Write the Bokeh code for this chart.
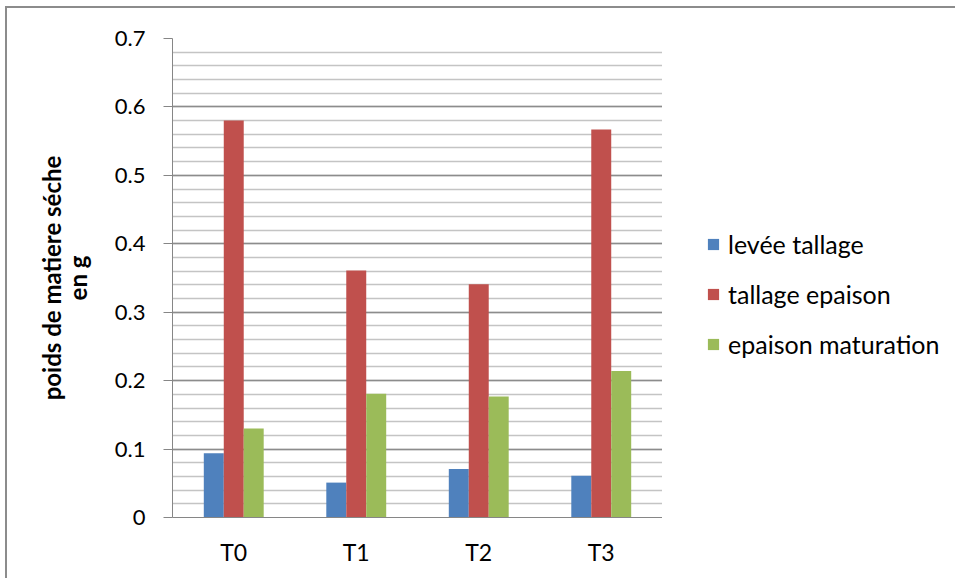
from bokeh.plotting import figure
from bokeh.layouts import row
from bokeh.models import ColumnDataSource, FixedTicker, Legend, LegendItem
from bokeh.transform import dodge
from bokeh.embed import file_html
from bokeh.resources import INLINE

categories = ["T0", "T1", "T2", "T3"]
series_names = ["levée tallage", "tallage epaison", "epaison maturation"]
levee_tallage = [0.094, 0.051, 0.071, 0.061]
tallage_epaison = [0.580, 0.361, 0.341, 0.567]
epaison_maturation = [0.130, 0.181, 0.177, 0.214]
y_major_ticks = [0, 0.1, 0.2, 0.3, 0.4, 0.5, 0.6, 0.7]
y_tick_labels = ["0", "0.1", "0.2", "0.3", "0.4", "0.5", "0.6", "0.7"]
y_minor_ticks = [i / 50 for i in range(36)]

colors = ["#4F81BD", "#C0504D", "#9BBB59"]
FONT = "Lato"

source = ColumnDataSource(dict(cat=categories, s0=levee_tallage,
                               s1=tallage_epaison, s2=epaison_maturation))

p = figure(x_range=categories, y_range=(0, 0.7), width=655, height=570,
           output_backend="svg", toolbar_location=None,
           min_border_left=165, min_border_right=0,
           min_border_top=30, min_border_bottom=61)
p.outline_line_color = None
p.background_fill_color = "white"
p.border_fill_color = "white"

bw = 0.163
renderers = []
for i, col in enumerate(["s0", "s1", "s2"]):
    r = p.vbar(x=dodge("cat", (i - 1) * bw, range=p.x_range), top=col,
               width=bw, source=source, fill_color=colors[i],
               line_color=None)
    renderers.append(r)

# y axis
p.yaxis.ticker = FixedTicker(ticks=y_major_ticks, minor_ticks=y_minor_ticks)
p.yaxis.major_label_overrides = {t: l for t, l in zip(y_major_ticks, y_tick_labels)}
p.yaxis.axis_line_color = "#868686"
p.yaxis.major_tick_line_color = "#868686"
p.yaxis.major_tick_out = 9
p.yaxis.major_tick_in = 0
p.yaxis.minor_tick_out = 0
p.yaxis.minor_tick_in = 0
p.yaxis.major_label_standoff = 18
p.yaxis.major_label_text_font = FONT
p.yaxis.major_label_text_font_size = "22px"
p.yaxis.major_label_text_color = "black"
p.yaxis.axis_label = "poids de matiere séche\nen g"
p.yaxis.axis_label_text_font = FONT
p.yaxis.axis_label_text_font_style = "bold"
p.yaxis.axis_label_text_font_size = "24px"
p.yaxis.axis_label_text_line_height = 0.88
p.yaxis.axis_label_text_color = "black"
p.yaxis.axis_label_standoff = 20

# x axis
p.xaxis.axis_line_color = "#868686"
p.xaxis.major_tick_line_color = None
p.xaxis.minor_tick_line_color = None
p.xaxis.major_label_standoff = 14
p.xaxis.major_label_text_font = FONT
p.xaxis.major_label_text_font_size = "23px"
p.xaxis.major_label_text_color = "black"

# grids
p.xgrid.grid_line_color = None
p.ygrid.grid_line_color = "#8C8C8C"
p.ygrid.grid_line_width = 1.5
p.ygrid.minor_grid_line_color = "#C4C4C4"
p.ygrid.minor_grid_line_width = 1.5

# legend panel (separate canvas on the right)
q = figure(x_range=(0, 1), y_range=(0, 1), width=293, height=570,
           output_backend="svg", toolbar_location=None,
           x_axis_type=None, y_axis_type=None,
           min_border_left=0, min_border_right=0,
           min_border_top=0, min_border_bottom=0)
q.outline_line_color = None
q.xgrid.visible = False
q.ygrid.visible = False
q.background_fill_color = "white"
q.border_fill_color = "white"
leg_renderers = []
for i in range(3):
    r = q.vbar(x=[5], top=[5], bottom=[4], width=0.1,
               fill_color=colors[i], line_color=None)
    leg_renderers.append(r)

legend = Legend(items=[LegendItem(label=n, renderers=[r])
                       for n, r in zip(series_names, leg_renderers)],
                location=(44, 158), orientation="vertical",
                border_line_color=None, background_fill_alpha=0,
                padding=0, margin=0, spacing=20,
                glyph_width=14, glyph_height=14, label_height=20,
                label_standoff=8, label_text_font=FONT,
                label_text_font_size="25px", label_text_color="black")
q.add_layout(legend, "center")

layout = row(p, q, spacing=0)
layout.margin = (6, 0, 0, 5)
layout.styles = {"border-top": "2px solid #8C8C8C",
                 "border-left": "2px solid #8C8C8C"}

open("out.html", "w").write(file_html(layout, INLINE))
